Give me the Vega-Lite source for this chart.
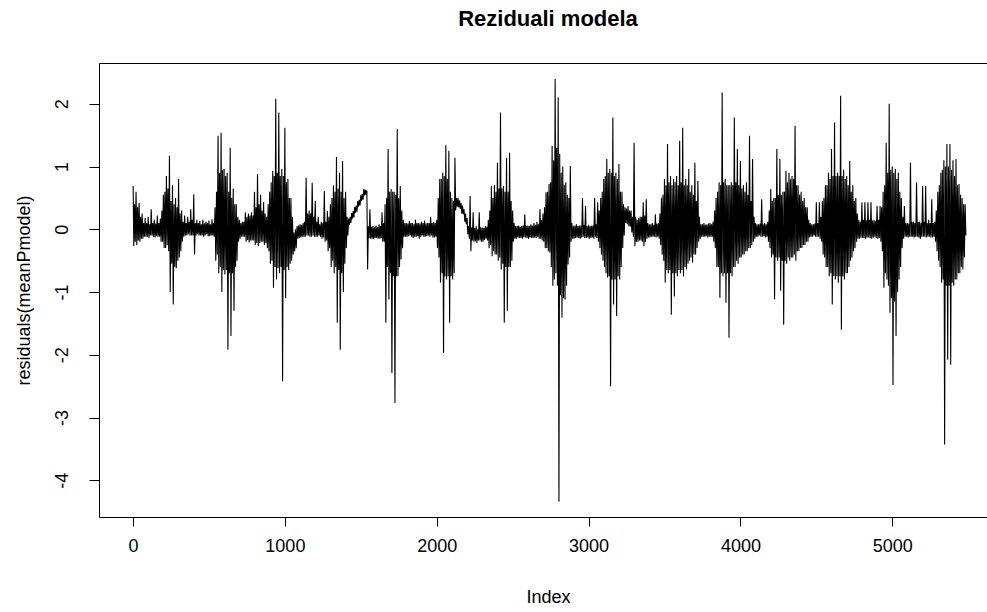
{
"$schema": "https://vega.github.io/schema/vega-lite/v6.json",
"autosize": "none",
"width": 888,
"height": 454,
"padding": {"left": 99, "top": 63, "right": 0, "bottom": 95},
"background": "white",
"title": {"text": "Reziduali modela", "font": "Liberation Sans", "fontSize": 22, "fontWeight": "bold", "color": "black", "anchor": "middle", "offset": 32, "dx": 5},
"config": {
  "view": {"stroke": null},
  "axis": {"labelFont": "Liberation Sans", "labelFontSize": 18, "labelColor": "black", "titleFont": "Liberation Sans", "titleFontSize": 18, "titleFontWeight": "normal", "titleColor": "black", "tickColor": "black", "domainColor": "black", "grid": false, "tickSize": 9, "domainWidth": 1, "tickWidth": 1}
},
"data": {"values": [
{"i":1,"r":0.69},{"i":5,"r":-0.27},{"i":10,"r":0.4},{"i":15,"r":-0.2},{"i":20,"r":0.6},{"i":25,"r":-0.25},{"i":30,"r":0.35},{"i":35,"r":-0.18},
{"i":40,"r":0.42},{"i":45,"r":-0.2},{"i":50,"r":0.2},{"i":55,"r":-0.15},{"i":60,"r":0.25},{"i":65,"r":-0.15},{"i":70,"r":0.1},{"i":75,"r":-0.12},
{"i":80,"r":0.18},{"i":85,"r":-0.12},{"i":90,"r":0.1},{"i":95,"r":-0.12},{"i":100,"r":0.2},{"i":105,"r":-0.14},{"i":110,"r":0.08},{"i":115,"r":-0.1},
{"i":120,"r":0.32},{"i":125,"r":-0.1},{"i":130,"r":0.1},{"i":135,"r":-0.12},{"i":140,"r":0.15},{"i":145,"r":-0.13},{"i":150,"r":0.09},{"i":155,"r":-0.11},
{"i":160,"r":0.22},{"i":165,"r":-0.12},{"i":170,"r":0.1},{"i":175,"r":-0.12},{"i":180,"r":0.17},{"i":185,"r":-0.2},{"i":190,"r":0.3},{"i":195,"r":-0.2},
{"i":200,"r":0.55},{"i":205,"r":-0.3},{"i":210,"r":0.6},{"i":215,"r":-0.3},{"i":220,"r":0.85},{"i":225,"r":-0.25},{"i":230,"r":0.65},{"i":235,"r":-0.35},
{"i":240,"r":1.17},{"i":245,"r":-1.0},{"i":250,"r":0.45},{"i":255,"r":-0.55},{"i":260,"r":0.7},{"i":265,"r":-1.2},{"i":270,"r":0.4},{"i":275,"r":-0.6},
{"i":280,"r":0.5},{"i":285,"r":-0.62},{"i":290,"r":0.35},{"i":295,"r":-0.5},{"i":300,"r":0.8},{"i":305,"r":-0.45},{"i":310,"r":0.25},{"i":315,"r":-0.35},
{"i":320,"r":0.3},{"i":325,"r":-0.2},{"i":330,"r":0.12},{"i":335,"r":-0.12},{"i":340,"r":0.22},{"i":345,"r":-0.1},{"i":350,"r":0.1},{"i":355,"r":-0.1},
{"i":360,"r":0.2},{"i":365,"r":-0.08},{"i":370,"r":0.12},{"i":375,"r":-0.1},{"i":380,"r":0.32},{"i":385,"r":-0.1},{"i":390,"r":0.15},{"i":395,"r":-0.1},
{"i":400,"r":0.56},{"i":405,"r":-0.4},{"i":410,"r":0.1},{"i":415,"r":-0.1},{"i":420,"r":0.15},{"i":425,"r":-0.08},{"i":430,"r":0.1},{"i":435,"r":-0.1},
{"i":440,"r":0.13},{"i":445,"r":-0.1},{"i":450,"r":0.08},{"i":455,"r":-0.1},{"i":460,"r":0.15},{"i":465,"r":-0.12},{"i":470,"r":0.09},{"i":475,"r":-0.1},
{"i":480,"r":0.12},{"i":485,"r":-0.08},{"i":490,"r":0.1},{"i":495,"r":-0.11},{"i":500,"r":0.14},{"i":505,"r":-0.11},{"i":510,"r":0.08},{"i":515,"r":-0.1},
{"i":520,"r":0.16},{"i":525,"r":-0.1},{"i":530,"r":0.1},{"i":535,"r":-0.12},{"i":540,"r":0.35},{"i":545,"r":-0.5},{"i":550,"r":0.6},{"i":555,"r":-0.4},
{"i":560,"r":1.49},{"i":565,"r":-0.7},{"i":570,"r":0.9},{"i":575,"r":-0.6},{"i":580,"r":1.54},{"i":585,"r":-1.0},{"i":590,"r":0.95},{"i":595,"r":-0.65},
{"i":600,"r":0.96},{"i":605,"r":-0.72},{"i":610,"r":0.85},{"i":615,"r":-0.65},{"i":620,"r":0.9},{"i":625,"r":-1.92},{"i":630,"r":0.6},{"i":635,"r":-0.7},
{"i":640,"r":1.3},{"i":645,"r":-1.7},{"i":650,"r":0.5},{"i":655,"r":-0.7},{"i":660,"r":0.65},{"i":665,"r":-1.3},{"i":670,"r":0.4},{"i":675,"r":-0.6},
{"i":680,"r":0.4},{"i":685,"r":-0.5},{"i":690,"r":0.2},{"i":695,"r":-0.2},{"i":700,"r":0.15},{"i":705,"r":-0.15},{"i":710,"r":0.1},{"i":715,"r":-0.12},
{"i":720,"r":0.12},{"i":725,"r":-0.12},{"i":730,"r":0.12},{"i":735,"r":-0.12},{"i":740,"r":0.27},{"i":745,"r":-0.2},{"i":750,"r":0.2},{"i":755,"r":-0.17},
{"i":760,"r":0.25},{"i":765,"r":-0.21},{"i":770,"r":0.22},{"i":775,"r":-0.18},{"i":780,"r":0.27},{"i":785,"r":-0.18},{"i":790,"r":0.22},{"i":795,"r":-0.18},
{"i":800,"r":0.6},{"i":805,"r":-0.25},{"i":810,"r":0.35},{"i":815,"r":-0.22},{"i":820,"r":0.88},{"i":825,"r":-0.27},{"i":830,"r":0.4},{"i":835,"r":-0.22},
{"i":840,"r":0.55},{"i":845,"r":-0.2},{"i":850,"r":0.3},{"i":855,"r":-0.2},{"i":860,"r":0.43},{"i":865,"r":-0.25},{"i":870,"r":0.25},{"i":875,"r":-0.22},
{"i":880,"r":0.2},{"i":885,"r":-0.3},{"i":890,"r":0.4},{"i":895,"r":-0.35},{"i":900,"r":0.6},{"i":905,"r":-0.55},{"i":910,"r":0.75},{"i":915,"r":-0.5},
{"i":920,"r":0.93},{"i":925,"r":-0.93},{"i":930,"r":0.85},{"i":935,"r":-0.6},{"i":940,"r":2.08},{"i":945,"r":-0.8},{"i":950,"r":0.9},{"i":955,"r":-0.62},
{"i":960,"r":1.86},{"i":965,"r":-0.7},{"i":970,"r":0.85},{"i":975,"r":-0.6},{"i":980,"r":0.96},{"i":985,"r":-2.42},{"i":990,"r":0.85},{"i":995,"r":-0.65},
{"i":1000,"r":1.62},{"i":1005,"r":-1.1},{"i":1010,"r":0.75},{"i":1015,"r":-0.6},{"i":1020,"r":0.8},{"i":1025,"r":-0.65},{"i":1030,"r":0.5},{"i":1035,"r":-0.55},
{"i":1040,"r":0.5},{"i":1045,"r":-0.5},{"i":1050,"r":0.2},{"i":1055,"r":-0.4},{"i":1060,"r":-0.05},{"i":1065,"r":-0.35},{"i":1070,"r":0.0},{"i":1075,"r":-0.3},
{"i":1080,"r":0.05},{"i":1085,"r":-0.15},{"i":1090,"r":0.06},{"i":1095,"r":-0.14},{"i":1100,"r":0.08},{"i":1105,"r":-0.13},{"i":1110,"r":0.07},{"i":1115,"r":-0.12},
{"i":1120,"r":0.1},{"i":1125,"r":-0.12},{"i":1130,"r":0.12},{"i":1135,"r":-0.12},{"i":1140,"r":0.82},{"i":1145,"r":-0.1},{"i":1150,"r":0.25},{"i":1155,"r":-0.1},
{"i":1160,"r":0.3},{"i":1165,"r":-0.12},{"i":1170,"r":0.25},{"i":1175,"r":-0.12},{"i":1180,"r":0.74},{"i":1185,"r":-0.1},{"i":1190,"r":0.2},{"i":1195,"r":-0.12},
{"i":1200,"r":0.45},{"i":1205,"r":-0.12},{"i":1210,"r":0.12},{"i":1215,"r":-0.12},{"i":1220,"r":0.2},{"i":1225,"r":-0.1},{"i":1230,"r":0.08},{"i":1235,"r":-0.12},
{"i":1240,"r":0.12},{"i":1245,"r":-0.15},{"i":1250,"r":0.1},{"i":1255,"r":-0.13},{"i":1260,"r":0.61},{"i":1265,"r":-0.2},{"i":1270,"r":0.12},{"i":1275,"r":-0.18},
{"i":1280,"r":0.29},{"i":1285,"r":-0.35},{"i":1290,"r":0.2},{"i":1295,"r":-0.3},{"i":1300,"r":0.4},{"i":1305,"r":-0.6},{"i":1310,"r":0.5},{"i":1315,"r":-0.5},
{"i":1320,"r":0.7},{"i":1325,"r":-0.7},{"i":1330,"r":0.6},{"i":1335,"r":-0.6},{"i":1340,"r":1.15},{"i":1345,"r":-1.49},{"i":1350,"r":0.65},{"i":1355,"r":-0.65},
{"i":1360,"r":0.9},{"i":1365,"r":-1.92},{"i":1370,"r":0.6},{"i":1375,"r":-0.7},{"i":1380,"r":1.09},{"i":1385,"r":-1.0},{"i":1390,"r":0.5},{"i":1395,"r":-0.55},
{"i":1400,"r":0.6},{"i":1405,"r":-0.3},{"i":1410,"r":0.2},{"i":1415,"r":-0.1},{"i":1420,"r":0.17},{"i":1425,"r":0.07},{"i":1430,"r":0.2},{"i":1435,"r":0.1},
{"i":1440,"r":0.26},{"i":1445,"r":0.17},{"i":1450,"r":0.29},{"i":1455,"r":0.19},{"i":1460,"r":0.36},{"i":1465,"r":0.26},{"i":1470,"r":0.38},{"i":1475,"r":0.28},
{"i":1480,"r":0.45},{"i":1485,"r":0.36},{"i":1490,"r":0.47},{"i":1495,"r":0.38},{"i":1500,"r":0.54},{"i":1505,"r":0.45},{"i":1510,"r":0.56},{"i":1515,"r":0.47},
{"i":1520,"r":0.64},{"i":1525,"r":0.54},{"i":1530,"r":0.63},{"i":1535,"r":0.55},{"i":1540,"r":0.62},{"i":1545,"r":-0.64},{"i":1550,"r":0.05},{"i":1555,"r":-0.14},
{"i":1560,"r":0.32},{"i":1565,"r":-0.15},{"i":1570,"r":0.04},{"i":1575,"r":-0.15},{"i":1580,"r":0.05},{"i":1585,"r":-0.16},{"i":1590,"r":0.03},{"i":1595,"r":-0.14},
{"i":1600,"r":0.06},{"i":1605,"r":-0.14},{"i":1610,"r":0.04},{"i":1615,"r":-0.15},{"i":1620,"r":0.08},{"i":1625,"r":-0.15},{"i":1630,"r":0.05},{"i":1635,"r":-0.14},
{"i":1640,"r":0.27},{"i":1645,"r":-0.2},{"i":1650,"r":0.1},{"i":1655,"r":-0.2},{"i":1660,"r":0.4},{"i":1665,"r":-1.49},{"i":1670,"r":0.5},{"i":1675,"r":-0.6},
{"i":1680,"r":1.28},{"i":1685,"r":-1.12},{"i":1690,"r":0.6},{"i":1695,"r":-0.7},{"i":1700,"r":0.64},{"i":1705,"r":-2.29},{"i":1710,"r":0.6},{"i":1715,"r":-0.75},
{"i":1720,"r":0.6},{"i":1725,"r":-2.77},{"i":1730,"r":0.55},{"i":1735,"r":-0.75},{"i":1740,"r":1.6},{"i":1745,"r":-0.75},{"i":1750,"r":0.5},{"i":1755,"r":-0.6},
{"i":1760,"r":0.69},{"i":1765,"r":-0.48},{"i":1770,"r":0.3},{"i":1775,"r":-0.3},{"i":1780,"r":0.15},{"i":1785,"r":-0.12},{"i":1790,"r":0.1},{"i":1795,"r":-0.12},
{"i":1800,"r":0.1},{"i":1805,"r":-0.12},{"i":1810,"r":0.09},{"i":1815,"r":-0.11},{"i":1820,"r":0.13},{"i":1825,"r":-0.1},{"i":1830,"r":0.1},{"i":1835,"r":-0.12},
{"i":1840,"r":0.1},{"i":1845,"r":-0.14},{"i":1850,"r":0.08},{"i":1855,"r":-0.12},{"i":1860,"r":0.15},{"i":1865,"r":-0.12},{"i":1870,"r":0.1},{"i":1875,"r":-0.11},
{"i":1880,"r":0.1},{"i":1885,"r":-0.15},{"i":1890,"r":0.09},{"i":1895,"r":-0.12},{"i":1900,"r":0.12},{"i":1905,"r":-0.1},{"i":1910,"r":0.1},{"i":1915,"r":-0.12},
{"i":1920,"r":0.14},{"i":1925,"r":-0.12},{"i":1930,"r":0.09},{"i":1935,"r":-0.11},{"i":1940,"r":0.1},{"i":1945,"r":-0.1},{"i":1950,"r":0.1},{"i":1955,"r":-0.12},
{"i":1960,"r":0.2},{"i":1965,"r":-0.1},{"i":1970,"r":0.1},{"i":1975,"r":-0.13},{"i":1980,"r":0.12},{"i":1985,"r":-0.13},{"i":1990,"r":0.1},{"i":1995,"r":-0.12},
{"i":2000,"r":0.15},{"i":2005,"r":-0.3},{"i":2010,"r":0.5},{"i":2015,"r":-0.45},{"i":2020,"r":0.8},{"i":2025,"r":-0.85},{"i":2030,"r":0.8},{"i":2035,"r":-0.7},
{"i":2040,"r":0.9},{"i":2045,"r":-1.97},{"i":2050,"r":0.85},{"i":2055,"r":-0.75},{"i":2060,"r":1.34},{"i":2065,"r":-0.8},{"i":2070,"r":0.8},{"i":2075,"r":-0.75},
{"i":2080,"r":1.25},{"i":2085,"r":-1.49},{"i":2090,"r":0.6},{"i":2095,"r":-0.75},{"i":2100,"r":0.5},{"i":2105,"r":-0.8},{"i":2110,"r":0.45},{"i":2115,"r":-0.7},
{"i":2120,"r":1.14},{"i":2125,"r":0.3},{"i":2130,"r":0.5},{"i":2135,"r":0.36},{"i":2140,"r":0.5},{"i":2145,"r":0.35},{"i":2150,"r":0.46},{"i":2155,"r":0.33},
{"i":2160,"r":0.42},{"i":2165,"r":0.25},{"i":2170,"r":0.38},{"i":2175,"r":0.24},{"i":2180,"r":0.32},{"i":2185,"r":0.12},{"i":2190,"r":0.25},{"i":2195,"r":0.08},
{"i":2200,"r":0.18},{"i":2205,"r":-0.08},{"i":2210,"r":0.05},{"i":2215,"r":-0.15},{"i":2220,"r":0.53},{"i":2225,"r":-0.35},{"i":2230,"r":0.03},{"i":2235,"r":-0.18},
{"i":2240,"r":0.27},{"i":2245,"r":-0.2},{"i":2250,"r":0.02},{"i":2255,"r":-0.19},{"i":2260,"r":0.05},{"i":2265,"r":-0.22},{"i":2270,"r":0.0},{"i":2275,"r":-0.18},
{"i":2280,"r":0.27},{"i":2285,"r":-0.18},{"i":2290,"r":0.03},{"i":2295,"r":-0.2},{"i":2300,"r":0.03},{"i":2305,"r":-0.2},{"i":2310,"r":0.02},{"i":2315,"r":-0.17},
{"i":2320,"r":0.05},{"i":2325,"r":-0.15},{"i":2330,"r":0.04},{"i":2335,"r":-0.18},{"i":2340,"r":0.15},{"i":2345,"r":-0.3},{"i":2350,"r":0.3},{"i":2355,"r":-0.25},
{"i":2360,"r":0.69},{"i":2365,"r":-0.43},{"i":2370,"r":0.5},{"i":2375,"r":-0.35},{"i":2380,"r":0.7},{"i":2385,"r":-0.4},{"i":2390,"r":0.6},{"i":2395,"r":-0.4},
{"i":2400,"r":1.06},{"i":2405,"r":-0.5},{"i":2410,"r":0.65},{"i":2415,"r":-0.45},{"i":2420,"r":1.86},{"i":2425,"r":-0.64},{"i":2430,"r":0.65},{"i":2435,"r":-0.55},
{"i":2440,"r":0.69},{"i":2445,"r":-1.49},{"i":2450,"r":0.6},{"i":2455,"r":-0.6},{"i":2460,"r":1.14},{"i":2465,"r":-1.3},{"i":2470,"r":0.6},{"i":2475,"r":-0.6},
{"i":2480,"r":1.22},{"i":2485,"r":-0.6},{"i":2490,"r":0.45},{"i":2495,"r":-0.5},{"i":2500,"r":0.3},{"i":2505,"r":-0.2},{"i":2510,"r":0.1},{"i":2515,"r":-0.15},
{"i":2520,"r":0.05},{"i":2525,"r":-0.15},{"i":2530,"r":0.05},{"i":2535,"r":-0.13},{"i":2540,"r":0.06},{"i":2545,"r":-0.14},{"i":2550,"r":0.04},{"i":2555,"r":-0.14},
{"i":2560,"r":0.05},{"i":2565,"r":-0.15},{"i":2570,"r":0.06},{"i":2575,"r":-0.13},{"i":2580,"r":0.24},{"i":2585,"r":-0.13},{"i":2590,"r":0.05},{"i":2595,"r":-0.14},
{"i":2600,"r":0.06},{"i":2605,"r":-0.15},{"i":2610,"r":0.05},{"i":2615,"r":-0.13},{"i":2620,"r":0.08},{"i":2625,"r":-0.14},{"i":2630,"r":0.06},{"i":2635,"r":-0.14},
{"i":2640,"r":0.1},{"i":2645,"r":-0.13},{"i":2650,"r":0.07},{"i":2655,"r":-0.14},{"i":2660,"r":0.12},{"i":2665,"r":-0.12},{"i":2670,"r":0.08},{"i":2675,"r":-0.15},
{"i":2680,"r":0.32},{"i":2685,"r":-0.15},{"i":2690,"r":0.15},{"i":2695,"r":-0.18},{"i":2700,"r":0.25},{"i":2705,"r":-0.2},{"i":2710,"r":0.35},{"i":2715,"r":-0.3},
{"i":2720,"r":0.59},{"i":2725,"r":-0.3},{"i":2730,"r":0.6},{"i":2735,"r":-0.35},{"i":2740,"r":0.72},{"i":2745,"r":-0.37},{"i":2750,"r":0.75},{"i":2755,"r":-0.6},
{"i":2760,"r":1.33},{"i":2765,"r":-0.9},{"i":2770,"r":1.1},{"i":2775,"r":-0.8},{"i":2780,"r":2.4},{"i":2785,"r":-0.7},{"i":2790,"r":1.3},{"i":2795,"r":-0.9},
{"i":2800,"r":2.1},{"i":2805,"r":-4.34},{"i":2810,"r":1.2},{"i":2815,"r":-1.05},{"i":2820,"r":0.9},{"i":2825,"r":-1.41},{"i":2830,"r":1.0},{"i":2835,"r":-1.1},
{"i":2840,"r":0.7},{"i":2845,"r":-1.12},{"i":2850,"r":0.75},{"i":2855,"r":-0.9},{"i":2860,"r":0.55},{"i":2865,"r":-0.56},{"i":2870,"r":0.5},{"i":2875,"r":-0.45},
{"i":2880,"r":1.01},{"i":2885,"r":-0.2},{"i":2890,"r":0.1},{"i":2895,"r":-0.15},{"i":2900,"r":0.05},{"i":2905,"r":-0.15},{"i":2910,"r":0.06},{"i":2915,"r":-0.14},
{"i":2920,"r":0.08},{"i":2925,"r":-0.13},{"i":2930,"r":0.05},{"i":2935,"r":-0.14},{"i":2940,"r":0.06},{"i":2945,"r":-0.15},{"i":2950,"r":0.06},{"i":2955,"r":-0.13},
{"i":2960,"r":0.5},{"i":2965,"r":-0.12},{"i":2970,"r":0.07},{"i":2975,"r":-0.14},{"i":2980,"r":0.37},{"i":2985,"r":-0.14},{"i":2990,"r":0.05},{"i":2995,"r":-0.13},
{"i":3000,"r":0.07},{"i":3005,"r":-0.15},{"i":3010,"r":0.05},{"i":3015,"r":-0.14},{"i":3020,"r":0.06},{"i":3025,"r":-0.13},{"i":3030,"r":0.06},{"i":3035,"r":-0.15},
{"i":3040,"r":0.5},{"i":3045,"r":-0.12},{"i":3050,"r":0.08},{"i":3055,"r":-0.14},{"i":3060,"r":0.43},{"i":3065,"r":-0.2},{"i":3070,"r":0.3},{"i":3075,"r":-0.3},
{"i":3080,"r":0.5},{"i":3085,"r":-0.4},{"i":3090,"r":0.6},{"i":3095,"r":-0.5},{"i":3100,"r":0.8},{"i":3105,"r":-0.6},{"i":3110,"r":0.85},{"i":3115,"r":-0.7},
{"i":3120,"r":1.12},{"i":3125,"r":-0.77},{"i":3130,"r":0.9},{"i":3135,"r":-0.75},{"i":3140,"r":0.96},{"i":3145,"r":-2.5},{"i":3150,"r":0.9},{"i":3155,"r":-0.8},
{"i":3160,"r":1.78},{"i":3165,"r":-1.2},{"i":3170,"r":0.85},{"i":3175,"r":-0.8},{"i":3180,"r":0.9},{"i":3185,"r":-1.38},{"i":3190,"r":0.8},{"i":3195,"r":-0.75},
{"i":3200,"r":1.04},{"i":3205,"r":-0.8},{"i":3210,"r":0.6},{"i":3215,"r":-0.6},{"i":3220,"r":0.6},{"i":3225,"r":-0.3},{"i":3230,"r":0.4},{"i":3235,"r":-0.1},
{"i":3240,"r":0.35},{"i":3245,"r":0.1},{"i":3250,"r":0.33},{"i":3255,"r":0.08},{"i":3260,"r":0.37},{"i":3265,"r":0.05},{"i":3270,"r":0.3},{"i":3275,"r":0.04},
{"i":3280,"r":0.3},{"i":3285,"r":-0.05},{"i":3290,"r":0.2},{"i":3295,"r":-0.12},{"i":3300,"r":1.38},{"i":3305,"r":-0.27},{"i":3310,"r":0.2},{"i":3315,"r":-0.2},
{"i":3320,"r":0.15},{"i":3325,"r":-0.2},{"i":3330,"r":0.18},{"i":3335,"r":-0.18},{"i":3340,"r":0.2},{"i":3345,"r":-0.18},{"i":3350,"r":0.2},{"i":3355,"r":-0.2},
{"i":3360,"r":0.43},{"i":3365,"r":-0.27},{"i":3370,"r":0.22},{"i":3375,"r":-0.2},{"i":3380,"r":0.48},{"i":3385,"r":-0.15},{"i":3390,"r":0.1},{"i":3395,"r":-0.13},
{"i":3400,"r":0.08},{"i":3405,"r":-0.13},{"i":3410,"r":0.08},{"i":3415,"r":-0.12},{"i":3420,"r":0.1},{"i":3425,"r":-0.12},{"i":3430,"r":0.07},{"i":3435,"r":-0.12},
{"i":3440,"r":0.24},{"i":3445,"r":-0.13},{"i":3450,"r":0.09},{"i":3455,"r":-0.12},{"i":3460,"r":0.1},{"i":3465,"r":-0.15},{"i":3470,"r":0.25},{"i":3475,"r":-0.25},
{"i":3480,"r":0.5},{"i":3485,"r":-0.4},{"i":3490,"r":0.55},{"i":3495,"r":-0.5},{"i":3500,"r":0.8},{"i":3505,"r":-0.85},{"i":3510,"r":0.7},{"i":3515,"r":-0.65},
{"i":3520,"r":1.36},{"i":3525,"r":-0.7},{"i":3530,"r":0.75},{"i":3535,"r":-0.65},{"i":3540,"r":0.85},{"i":3545,"r":-1.36},{"i":3550,"r":0.7},{"i":3555,"r":-0.7},
{"i":3560,"r":0.8},{"i":3565,"r":-1.07},{"i":3570,"r":0.75},{"i":3575,"r":-0.7},{"i":3580,"r":0.85},{"i":3585,"r":-0.75},{"i":3590,"r":0.7},{"i":3595,"r":-0.65},
{"i":3600,"r":1.41},{"i":3605,"r":-0.7},{"i":3610,"r":0.75},{"i":3615,"r":-0.65},{"i":3620,"r":1.62},{"i":3625,"r":-0.75},{"i":3630,"r":0.7},{"i":3635,"r":-0.6},
{"i":3640,"r":0.8},{"i":3645,"r":-0.64},{"i":3650,"r":0.7},{"i":3655,"r":-0.55},{"i":3660,"r":0.96},{"i":3665,"r":-0.5},{"i":3670,"r":0.6},{"i":3675,"r":-0.45},
{"i":3680,"r":0.7},{"i":3685,"r":-0.53},{"i":3690,"r":0.55},{"i":3695,"r":-0.4},{"i":3700,"r":1.06},{"i":3705,"r":-0.4},{"i":3710,"r":0.45},{"i":3715,"r":-0.3},
{"i":3720,"r":0.77},{"i":3725,"r":-0.2},{"i":3730,"r":0.2},{"i":3735,"r":-0.15},{"i":3740,"r":0.08},{"i":3745,"r":-0.12},{"i":3750,"r":0.08},{"i":3755,"r":-0.12},
{"i":3760,"r":0.1},{"i":3765,"r":-0.12},{"i":3770,"r":0.07},{"i":3775,"r":-0.11},{"i":3780,"r":0.08},{"i":3785,"r":-0.13},{"i":3790,"r":0.09},{"i":3795,"r":-0.12},
{"i":3800,"r":0.1},{"i":3805,"r":-0.12},{"i":3810,"r":0.08},{"i":3815,"r":-0.12},{"i":3820,"r":0.12},{"i":3825,"r":-0.2},{"i":3830,"r":0.3},{"i":3835,"r":-0.3},
{"i":3840,"r":0.5},{"i":3845,"r":-0.6},{"i":3850,"r":0.6},{"i":3855,"r":-0.6},{"i":3860,"r":0.75},{"i":3865,"r":-1.09},{"i":3870,"r":0.7},{"i":3875,"r":-0.7},
{"i":3880,"r":2.18},{"i":3885,"r":-0.75},{"i":3890,"r":0.75},{"i":3895,"r":-0.7},{"i":3900,"r":0.8},{"i":3905,"r":-1.17},{"i":3910,"r":0.7},{"i":3915,"r":-0.7},
{"i":3920,"r":0.7},{"i":3925,"r":-1.73},{"i":3930,"r":0.7},{"i":3935,"r":-0.7},{"i":3940,"r":0.75},{"i":3945,"r":-0.75},{"i":3950,"r":0.7},{"i":3955,"r":-0.6},
{"i":3960,"r":1.78},{"i":3965,"r":-0.6},{"i":3970,"r":0.75},{"i":3975,"r":-0.5},{"i":3980,"r":1.28},{"i":3985,"r":-0.55},{"i":3990,"r":0.7},{"i":3995,"r":-0.45},
{"i":4000,"r":1.09},{"i":4005,"r":-0.45},{"i":4010,"r":0.65},{"i":4015,"r":-0.4},{"i":4020,"r":0.7},{"i":4025,"r":-0.4},{"i":4030,"r":0.6},{"i":4035,"r":-0.35},
{"i":4040,"r":0.75},{"i":4045,"r":-0.35},{"i":4050,"r":0.55},{"i":4055,"r":-0.3},{"i":4060,"r":1.49},{"i":4065,"r":-0.3},{"i":4070,"r":0.45},{"i":4075,"r":-0.25},
{"i":4080,"r":1.12},{"i":4085,"r":-0.2},{"i":4090,"r":0.2},{"i":4095,"r":-0.15},{"i":4100,"r":0.1},{"i":4105,"r":-0.12},{"i":4110,"r":0.08},{"i":4115,"r":-0.12},
{"i":4120,"r":0.08},{"i":4125,"r":-0.1},{"i":4130,"r":0.09},{"i":4135,"r":-0.12},{"i":4140,"r":0.48},{"i":4145,"r":-0.12},{"i":4150,"r":0.08},{"i":4155,"r":-0.11},
{"i":4160,"r":0.1},{"i":4165,"r":-0.13},{"i":4170,"r":0.08},{"i":4175,"r":-0.12},{"i":4180,"r":0.12},{"i":4185,"r":-0.2},{"i":4190,"r":0.3},{"i":4195,"r":-0.3},
{"i":4200,"r":0.64},{"i":4205,"r":-0.45},{"i":4210,"r":0.45},{"i":4215,"r":-0.4},{"i":4220,"r":0.5},{"i":4225,"r":-1.12},{"i":4230,"r":0.5},{"i":4235,"r":-0.45},
{"i":4240,"r":1.28},{"i":4245,"r":-0.5},{"i":4250,"r":0.55},{"i":4255,"r":-0.45},{"i":4260,"r":1.12},{"i":4265,"r":-0.98},{"i":4270,"r":0.55},{"i":4275,"r":-0.5},
{"i":4280,"r":0.6},{"i":4285,"r":-1.52},{"i":4290,"r":0.6},{"i":4295,"r":-0.5},{"i":4300,"r":0.93},{"i":4305,"r":-0.55},{"i":4310,"r":0.75},{"i":4315,"r":-0.45},
{"i":4320,"r":0.9},{"i":4325,"r":-0.5},{"i":4330,"r":0.8},{"i":4335,"r":-0.45},{"i":4340,"r":0.85},{"i":4345,"r":-0.45},{"i":4350,"r":0.8},{"i":4355,"r":-0.4},
{"i":4360,"r":1.65},{"i":4365,"r":-0.5},{"i":4370,"r":0.7},{"i":4375,"r":-0.35},{"i":4380,"r":0.7},{"i":4385,"r":-0.35},{"i":4390,"r":0.55},{"i":4395,"r":-0.3},
{"i":4400,"r":0.6},{"i":4405,"r":-0.3},{"i":4410,"r":0.45},{"i":4415,"r":-0.25},{"i":4420,"r":0.5},{"i":4425,"r":-0.25},{"i":4430,"r":0.35},{"i":4435,"r":-0.2},
{"i":4440,"r":0.35},{"i":4445,"r":-0.2},{"i":4450,"r":0.15},{"i":4455,"r":-0.13},{"i":4460,"r":0.1},{"i":4465,"r":-0.12},{"i":4470,"r":0.08},{"i":4475,"r":-0.12},
{"i":4480,"r":0.08},{"i":4485,"r":-0.1},{"i":4490,"r":0.09},{"i":4495,"r":-0.12},{"i":4500,"r":0.43},{"i":4505,"r":-0.12},{"i":4510,"r":0.1},{"i":4515,"r":-0.12},
{"i":4520,"r":0.43},{"i":4525,"r":-0.15},{"i":4530,"r":0.2},{"i":4535,"r":-0.2},{"i":4540,"r":0.45},{"i":4545,"r":-0.4},{"i":4550,"r":0.5},{"i":4555,"r":-0.45},
{"i":4560,"r":0.7},{"i":4565,"r":-0.6},{"i":4570,"r":0.7},{"i":4575,"r":-0.6},{"i":4580,"r":0.9},{"i":4585,"r":-0.75},{"i":4590,"r":0.8},{"i":4595,"r":-0.7},
{"i":4600,"r":1.28},{"i":4605,"r":-1.2},{"i":4610,"r":0.85},{"i":4615,"r":-0.75},{"i":4620,"r":1.7},{"i":4625,"r":-0.8},{"i":4630,"r":0.85},{"i":4635,"r":-0.75},
{"i":4640,"r":0.9},{"i":4645,"r":-0.85},{"i":4650,"r":0.85},{"i":4655,"r":-0.75},{"i":4660,"r":2.13},{"i":4665,"r":-1.6},{"i":4670,"r":0.85},{"i":4675,"r":-0.75},
{"i":4680,"r":0.95},{"i":4685,"r":-0.8},{"i":4690,"r":0.8},{"i":4695,"r":-0.7},{"i":4700,"r":0.85},{"i":4705,"r":-0.7},{"i":4710,"r":0.7},{"i":4715,"r":-0.6},
{"i":4720,"r":1.09},{"i":4725,"r":-0.5},{"i":4730,"r":0.6},{"i":4735,"r":-0.45},{"i":4740,"r":0.7},{"i":4745,"r":-0.35},{"i":4750,"r":0.45},{"i":4755,"r":-0.3},
{"i":4760,"r":0.5},{"i":4765,"r":-0.2},{"i":4770,"r":0.25},{"i":4775,"r":-0.15},{"i":4780,"r":0.15},{"i":4785,"r":-0.15},{"i":4790,"r":0.12},{"i":4795,"r":-0.13},
{"i":4800,"r":0.43},{"i":4805,"r":-0.14},{"i":4810,"r":0.15},{"i":4815,"r":-0.14},{"i":4820,"r":0.43},{"i":4825,"r":-0.15},{"i":4830,"r":0.14},{"i":4835,"r":-0.13},
{"i":4840,"r":0.43},{"i":4845,"r":-0.13},{"i":4850,"r":0.15},{"i":4855,"r":-0.14},{"i":4860,"r":0.43},{"i":4865,"r":-0.15},{"i":4870,"r":0.14},{"i":4875,"r":-0.13},
{"i":4880,"r":0.15},{"i":4885,"r":-0.12},{"i":4890,"r":0.13},{"i":4895,"r":-0.14},{"i":4900,"r":0.37},{"i":4905,"r":-0.15},{"i":4910,"r":0.15},{"i":4915,"r":-0.14},
{"i":4920,"r":0.37},{"i":4925,"r":-0.2},{"i":4930,"r":0.35},{"i":4935,"r":-0.35},{"i":4940,"r":0.6},{"i":4945,"r":-0.93},{"i":4950,"r":0.7},{"i":4955,"r":-0.7},
{"i":4960,"r":1.38},{"i":4965,"r":-0.8},{"i":4970,"r":0.9},{"i":4975,"r":-0.9},{"i":4980,"r":2.0},{"i":4985,"r":-1.33},{"i":4990,"r":0.95},{"i":4995,"r":-1.1},
{"i":5000,"r":1.0},{"i":5005,"r":-2.48},{"i":5010,"r":0.9},{"i":5015,"r":-1.15},{"i":5020,"r":0.96},{"i":5025,"r":-1.7},{"i":5030,"r":0.8},{"i":5035,"r":-1.0},
{"i":5040,"r":0.9},{"i":5045,"r":-0.8},{"i":5050,"r":0.6},{"i":5055,"r":-0.6},{"i":5060,"r":0.5},{"i":5065,"r":-0.3},{"i":5070,"r":0.2},{"i":5075,"r":-0.15},
{"i":5080,"r":0.37},{"i":5085,"r":-0.12},{"i":5090,"r":0.1},{"i":5095,"r":-0.12},{"i":5100,"r":0.1},{"i":5105,"r":-0.13},{"i":5110,"r":0.09},{"i":5115,"r":-0.12},
{"i":5120,"r":1.06},{"i":5125,"r":-0.12},{"i":5130,"r":0.12},{"i":5135,"r":-0.12},{"i":5140,"r":0.12},{"i":5145,"r":-0.13},{"i":5150,"r":0.1},{"i":5155,"r":-0.12},
{"i":5160,"r":0.75},{"i":5165,"r":-0.12},{"i":5170,"r":0.12},{"i":5175,"r":-0.13},{"i":5180,"r":0.12},{"i":5185,"r":-0.15},{"i":5190,"r":0.1},{"i":5195,"r":-0.12},
{"i":5200,"r":0.69},{"i":5205,"r":-0.12},{"i":5210,"r":0.12},{"i":5215,"r":-0.12},{"i":5220,"r":0.69},{"i":5225,"r":-0.13},{"i":5230,"r":0.1},{"i":5235,"r":-0.12},
{"i":5240,"r":0.15},{"i":5245,"r":-0.12},{"i":5250,"r":0.1},{"i":5255,"r":-0.13},{"i":5260,"r":0.48},{"i":5265,"r":-0.13},{"i":5270,"r":0.1},{"i":5275,"r":-0.12},
{"i":5280,"r":0.12},{"i":5285,"r":-0.2},{"i":5290,"r":0.3},{"i":5295,"r":-0.35},{"i":5300,"r":0.6},{"i":5305,"r":-0.5},{"i":5310,"r":0.7},{"i":5315,"r":-0.6},
{"i":5320,"r":0.9},{"i":5325,"r":-0.85},{"i":5330,"r":0.95},{"i":5335,"r":-0.8},{"i":5340,"r":1.1},{"i":5345,"r":-3.43},{"i":5350,"r":1.0},{"i":5355,"r":-0.9},
{"i":5360,"r":1.36},{"i":5365,"r":-2.08},{"i":5370,"r":1.0},{"i":5375,"r":-0.9},{"i":5380,"r":1.36},{"i":5385,"r":-2.16},{"i":5390,"r":0.95},{"i":5395,"r":-0.85},
{"i":5400,"r":1.1},{"i":5405,"r":-0.9},{"i":5410,"r":0.85},{"i":5415,"r":-0.8},{"i":5420,"r":1.12},{"i":5425,"r":-0.8},{"i":5430,"r":0.7},{"i":5435,"r":-0.7},
{"i":5440,"r":0.72},{"i":5445,"r":-0.7},{"i":5450,"r":0.55},{"i":5455,"r":-0.6},{"i":5460,"r":0.5},{"i":5465,"r":-0.64},{"i":5470,"r":0.4},{"i":5475,"r":-0.45},
{"i":5480,"r":0.4},{"i":5485,"r":-0.1}
]},
"layer": [
  {
    "mark": {"type": "line", "color": "black", "strokeWidth": 1.1, "strokeJoin": "bevel", "clip": true},
    "encoding": {
      "x": {"field": "i", "type": "quantitative", "scale": {"domain": [-224, 5624], "nice": false, "zero": false},
            "axis": {"orient": "bottom", "values": [0, 1000, 2000, 3000, 4000, 5000], "labelExpr": "'' + datum.value", "title": "Index", "labelPadding": 11, "titleX": 449, "titleY": 80, "titleBaseline": "middle", "titleAlign": "center"}},
      "y": {"field": "r", "type": "quantitative", "scale": {"domain": [-4.585, 2.65], "nice": false, "zero": false},
            "axis": {"values": [-4, -3, -2, -1, 0, 1, 2], "labelExpr": "'' + datum.value", "title": "residuals(meanPmodel)", "labelAngle": -90, "labelAlign": "center", "labelBaseline": "bottom", "labelPadding": 18, "tickSize": 10, "titleX": -75, "titleY": 227, "titleAngle": -90, "titleAlign": "center", "titleBaseline": "middle"}}
    }
  },
  {
    "mark": {"type": "rule", "opacity": 0},
    "encoding": {
      "x": {"aggregate": "min", "field": "i", "type": "quantitative", "axis": {"orient": "top", "labels": false, "ticks": false, "title": null}}
    }
  }
],
"resolve": {"axis": {"x": "independent"}}
}
